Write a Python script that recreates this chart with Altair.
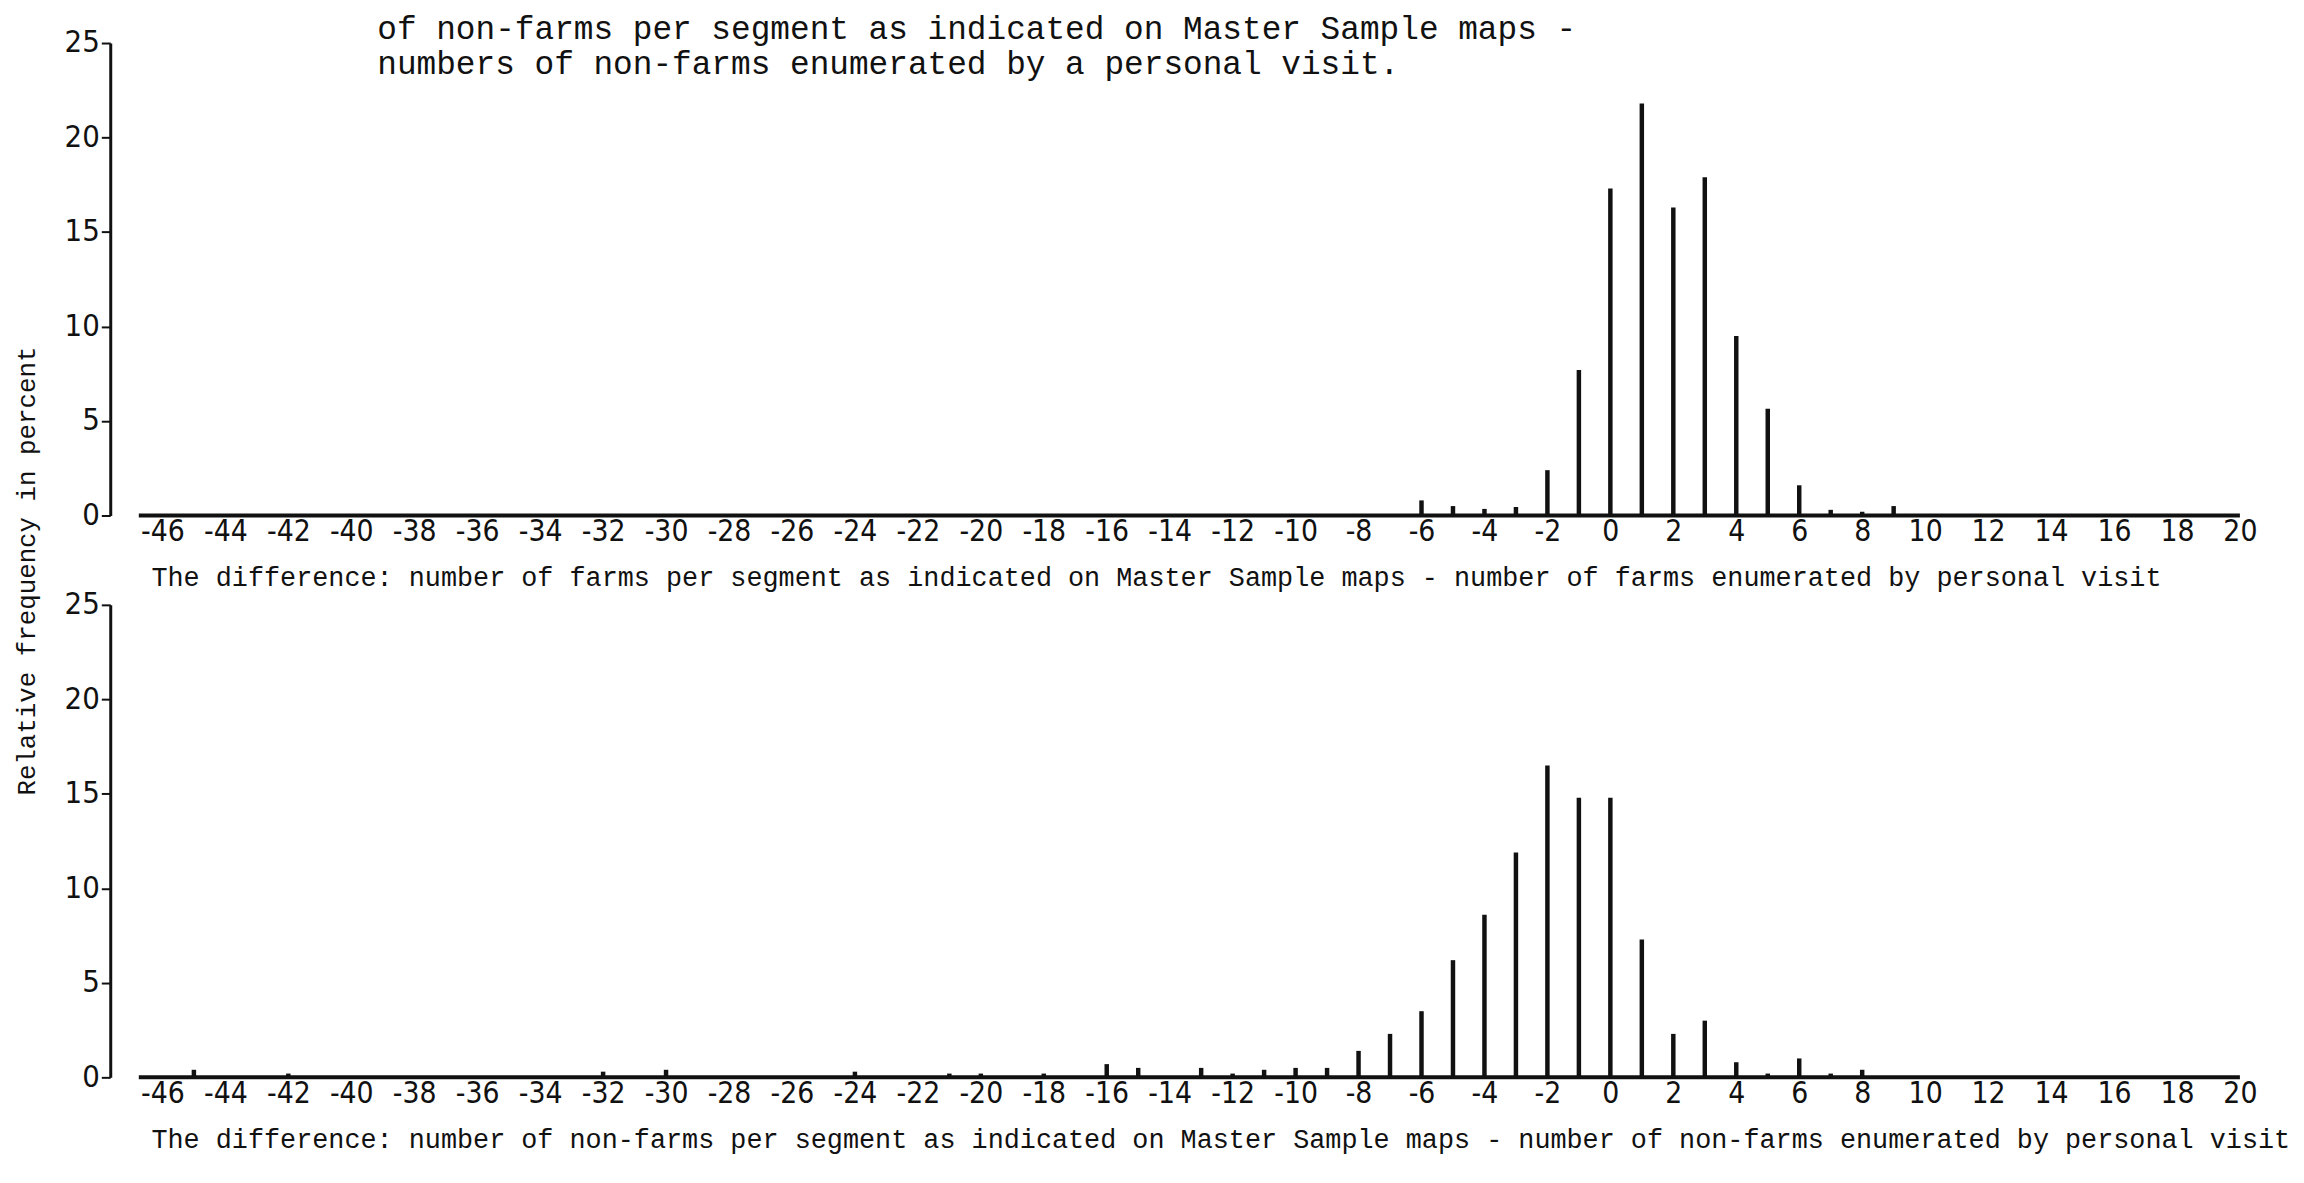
import altair as alt
import pandas as pd

# ---- data ----
TOP_X = [-6, -5, -4, -3, -2, -1, 0, 1, 2, 3, 4, 5, 6, 7, 8, 9]
TOP_Y = [0.8, 0.5, 0.35, 0.45, 2.4, 7.7, 17.3, 21.8, 16.3, 17.9, 9.5, 5.65, 1.6, 0.3, 0.2, 0.5]

BOT_X = [-45, -42, -32, -30, -24, -21, -20, -18, -16, -15, -13, -12, -11, -10, -9, -8,
         -7, -6, -5, -4, -3, -2, -1, 0, 1, 2, 3, 4, 5, 6, 7, 8]
BOT_Y = [0.4, 0.2, 0.3, 0.4, 0.3, 0.2, 0.2, 0.2, 0.7, 0.5, 0.5, 0.2, 0.4, 0.5, 0.5, 1.4,
         2.3, 3.5, 6.2, 8.6, 11.9, 16.5, 14.8, 14.8, 7.3, 2.3, 3.0, 0.8, 0.2, 1.0, 0.2, 0.4]

X_TICKS = list(range(-46, 21, 2))
Y_TICKS = [0, 5, 10, 15, 20, 25]
BASELINE = [-46.75, 20]
X_DOMAIN = [-47.5, 20.3]
Y_DOMAIN = [0, 25]

TOP_CAPTION = ("The difference: number of farms per segment as indicated on Master Sample maps"
               " - number of farms enumerated by personal visit")
BOT_CAPTION = ("The difference: number of non-farms per segment as indicated on Master Sample maps"
               " - number of non-farms enumerated by personal visit")
HEADING = ["of non-farms per segment as indicated on Master Sample maps -",
           "numbers of non-farms enumerated by a personal visit."]
Y_TITLE = "Relative frequency in percent"

# ---- styling ----
W, H = 2160, 476
INK = "#111111"
NUM_FONT = "Liberation Sans Narrow, DejaVu Sans Condensed, Arial Narrow, sans-serif"
MONO = "Liberation Mono, DejaVu Sans Mono, monospace"


def encodings(caption):
    xscale = alt.Scale(domain=X_DOMAIN, nice=False, zero=False)
    yscale = alt.Scale(domain=Y_DOMAIN, nice=False)
    xenc = alt.X("d:Q", scale=xscale, axis=alt.Axis(
        values=X_TICKS, domain=False, ticks=False, grid=False,
        labelExpr="'' + datum.value", labelFont=NUM_FONT, labelFontSize=30,
        labelColor=INK, labelPadding=1, labelFlush=False, labelOverlap=False,
        title=caption, titleFont=MONO, titleFontSize=27, titleFontWeight="normal",
        titleColor=INK, titleAlign="left", titleX=41, titlePadding=19))
    yenc = alt.Y("f:Q", scale=yscale, axis=alt.Axis(
        values=Y_TICKS, grid=False, domainColor=INK, domainWidth=3,
        tickColor=INK, tickWidth=2, tickSize=9, labelFont=NUM_FONT,
        labelFontSize=31, labelColor=INK, labelPadding=2, title=None))
    return xenc, yenc


def panel(xs, ys, caption, extra_layers=()):
    xenc, yenc = encodings(caption)
    df = pd.DataFrame({"d": xs, "f": ys})
    bars = alt.Chart(df).mark_bar(size=4.5, color=INK).encode(x=xenc, y=yenc)
    base_df = pd.DataFrame({"d": [BASELINE[0]], "d2": [BASELINE[1]], "f": [0]})
    base = alt.Chart(base_df).mark_rule(strokeWidth=4, color=INK).encode(
        x=xenc, x2="d2:Q", y=yenc)
    return alt.layer(bars, base, *extra_layers).properties(width=W, height=H)


head1 = alt.Chart(pd.DataFrame({"t": [HEADING[0]]})).mark_text(
    align="left", baseline="middle", font=MONO, fontSize=33, color=INK
).encode(x=alt.value(269), y=alt.value(-14), text="t:N")
head2 = alt.Chart(pd.DataFrame({"t": [HEADING[1]]})).mark_text(
    align="left", baseline="middle", font=MONO, fontSize=33, color=INK
).encode(x=alt.value(269), y=alt.value(21), text="t:N")
ytitle = alt.Chart(pd.DataFrame({"t": [Y_TITLE]})).mark_text(
    align="center", baseline="middle", font=MONO, fontSize=26, angle=270, color=INK
).encode(x=alt.value(-84), y=alt.value(532), text="t:N")

top = panel(TOP_X, TOP_Y, TOP_CAPTION, (head1, head2, ytitle))
bottom = panel(BOT_X, BOT_Y, BOT_CAPTION)

chart = alt.vconcat(top, bottom, spacing=90, bounds="flush").properties(
    padding={"left": 5, "top": 0, "right": 5, "bottom": 5},
    background="white",
).configure_view(stroke="transparent")

chart.save("out.html", embed_options={"renderer": "svg", "actions": False})
